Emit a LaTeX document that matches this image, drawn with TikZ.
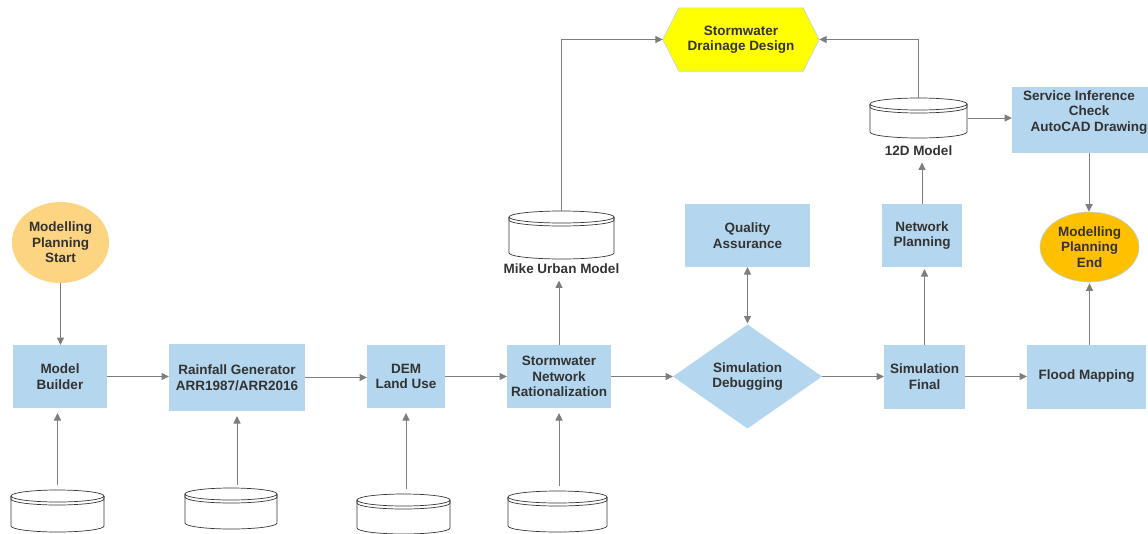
\documentclass[tikz,border=0pt]{standalone}
\usepackage{fontspec}
\setmainfont{Liberation Sans}
\usetikzlibrary{arrows.meta,shapes.geometric,backgrounds,calc}
\definecolor{boxblue}{RGB}{180,214,238}
\definecolor{txt}{RGB}{51,51,51}
\definecolor{conn}{RGB}{125,125,125}
\definecolor{startor}{RGB}{252,212,130}
\definecolor{endor}{RGB}{255,192,0}
\definecolor{hexyel}{RGB}{255,255,0}
\definecolor{edgeblue}{RGB}{175,215,235}
\definecolor{cylgray}{RGB}{55,55,55}
\tikzset{
  every node/.style={font=\bfseries\fontsize{13.5}{15.5}\selectfont, text=txt, align=center},
  box/.style={rectangle, fill=boxblue, inner sep=0pt, outer sep=0pt},
  arr/.style={draw=conn, line width=1pt, -{Triangle[length=7.5pt,width=7pt]}},
  darr/.style={draw=conn, line width=1pt, {Triangle[length=7.5pt,width=7pt]}-{Triangle[length=7.5pt,width=7pt]}},
  cylline/.style={draw=cylgray, line width=0.7pt},
}
\newcommand\dbcyl[5]{%
  \pgfmathsetmacro\cxl{#2-#4/2}%
  \pgfmathsetmacro\cxr{#2+#4/2}%
  \pgfmathsetmacro\cyt{-#3+#5/2}%
  \pgfmathsetmacro\cyb{-#3-#5/2}%
  \pgfmathsetmacro\crx{#4/2}%
  \node[inner sep=0pt,outer sep=0pt,minimum width=#4pt,minimum height=#5pt] (#1) at (#2,-#3) {};
  \filldraw[cylline,fill=white] (\cxl,\cyt-6) -- (\cxl,\cyb+6) arc[start angle=180,end angle=360,x radius=\crx pt,y radius=6pt] -- (\cxr,\cyt-6) arc[start angle=0,end angle=180,x radius=\crx pt,y radius=6pt] -- cycle;
  \draw[cylline] (\cxl,\cyt-6) arc[start angle=180,end angle=360,x radius=\crx pt,y radius=6pt];
  \draw[cylline] (\cxl,\cyt-6) -- (\cxl,\cyt-9) arc[start angle=180,end angle=360,x radius=\crx pt,y radius=6pt] -- (\cxr,\cyt-6);
}
\begin{document}
\begin{tikzpicture}[x=1pt,y=1pt]
\useasboundingbox (0,0) rectangle (1148,-533);
\clip (0,0) rectangle (1148,-533);

% main row
\node[box, minimum width=94pt, minimum height=63pt] (mb) at (60,-376.5) {Model\\Builder};
\node[box, minimum width=136pt, minimum height=67pt] (rain) at (237,-377.5) {Rainfall Generator\\ARR1987/ARR2016};
\node[box, minimum width=78pt, minimum height=63pt] (dem) at (406,-376.5) {DEM\\Land Use};
\node[box, minimum width=104pt, minimum height=63pt] (snr) at (559,-376.5) {Stormwater\\Network\\Rationalization};
\node[diamond, aspect=1.43, fill=boxblue, inner sep=0pt, outer sep=0pt, minimum width=149pt, minimum height=104pt] (dbg) at (747.5,-376.5) {Simulation\\Debugging};
\node[box, minimum width=81pt, minimum height=64pt] (sf) at (924.5,-376.5) {Simulation\\Final};
\node[box, minimum width=119pt, minimum height=64pt] (fm) at (1086.5,-376.5) {Flood Mapping};

% upper row
\node[ellipse, fill=startor, inner sep=0pt, minimum width=97pt, minimum height=81pt] (start) at (60.5,-242.5) {Modelling\\Planning\\Start};
\node[box, minimum width=125pt, minimum height=63pt] (qa) at (747.5,-235.5) {Quality\\Assurance};
\node[box, minimum width=80pt, minimum height=63pt] (np) at (922,-235.5) {Network\\Planning};
\node[ellipse, fill=endor, draw=edgeblue, line width=0.6pt, inner sep=0pt, minimum width=99pt, minimum height=70pt] (endn) at (1089.5,-247) {Modelling\\Planning\\End};
\node[box, minimum width=154pt, minimum height=66pt] (svc) at (1089,-120) {};
\node (svctxt) at (1089,-112.5) {Service Inference\hspace*{20pt}\\Check\\AutoCAD Drawing};

% hexagon
\node[minimum width=156pt, minimum height=63pt, inner sep=0pt] (hex) at (741,-39.5) {Stormwater\\Drainage Design};
\begin{scope}[on background layer]
\filldraw[fill=hexyel, draw=edgeblue, line width=0.6pt] (hex.west) -- ([xshift=16pt]hex.north west) -- ([xshift=-16pt]hex.north east) -- (hex.east) -- ([xshift=-16pt]hex.south east) -- ([xshift=16pt]hex.south west) -- cycle;
\end{scope}

% databases
\dbcyl{c1}{57.5}{511}{93}{42}
\dbcyl{c2}{231}{508.5}{92}{41}
\dbcyl{c3}{403.5}{514}{93}{40}
\dbcyl{c4}{557.5}{511.5}{99}{41}
\dbcyl{mike}{561.5}{235}{105}{48}
\dbcyl{d12}{918.5}{118}{97}{40}
\node (mikelbl) at (561.5,-269) {Mike Urban Model};
\node (lbl12) at (918.5,-151) {12D Model};

% connectors
\draw[arr] (start.south) -- (start.south |- mb.north);
\draw[arr, shorten <=5pt, shorten >=5pt] (c1.north) -- (c1.north |- mb.south);
\draw[arr] (mb.east) -- (mb.east -| rain.west);
\draw[arr, shorten <=3pt, shorten >=5pt] (c2.north -| rain.south) -- (rain.south);
\draw[arr] (rain.east) -- (rain.east -| dem.west);
\draw[arr, shorten <=5pt, shorten >=5pt] (c3.north -| dem.south) -- (dem.south);
\draw[arr] (dem.east) -- (snr.west);
\draw[arr, shorten <=5pt, shorten >=5pt] (c4.north -| snr.south) -- (snr.south);
\draw[arr, shorten >=3pt] (snr.north) -- (snr.north |- mikelbl.south);
\draw[arr] (mike.north) |- (hex.west);
\draw[arr] (snr.east) -- (dbg.west);
\draw[darr, shorten >=1pt] (qa.south) -- (dbg.north);
\draw[arr] (dbg.east) -- (sf.west);
\draw[arr, shorten >=2pt] (sf.north) -- (sf.north |- np.south);
\draw[arr, shorten >=3pt] (np.north) -- (np.north |- lbl12.south);
\draw[arr] (d12.north) |- (hex.east);
\draw[arr, shorten <=1pt] (d12.east) -- (d12.east -| svc.west);
\draw[arr] (svc.south) -- (svc.south |- endn.north);
\draw[arr] (sf.east) -- (fm.west);
\draw[arr, shorten >=1pt] (fm.north -| endn.south) -- (endn.south);
\end{tikzpicture}
\end{document}
